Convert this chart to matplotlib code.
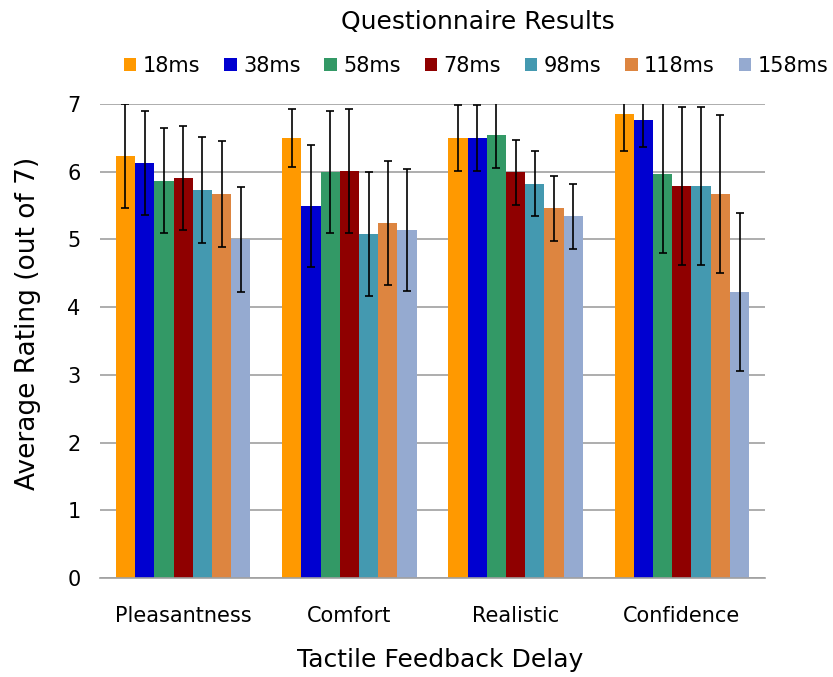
import matplotlib
matplotlib.use("Agg")
import matplotlib.pyplot as plt
import numpy as np

categories = ["Pleasantness", "Comfort", "Realistic", "Confidence"]
series = ["18ms", "38ms", "58ms", "78ms", "98ms", "118ms", "158ms"]
colors = ["#FF9900", "#0000D0", "#339966", "#8F0000", "#4499B0", "#DD8540", "#95AAD0"]

v18 = [6.23, 6.50, 6.50, 6.85]
v38 = [6.13, 5.50, 6.50, 6.77]
v58 = [5.87, 5.99, 6.54, 5.97]
v78 = [5.91, 6.01, 5.99, 5.79]
v98 = [5.73, 5.08, 5.82, 5.79]
v118 = [5.67, 5.24, 5.46, 5.67]
v158 = [5.00, 5.14, 5.34, 4.22]

e18 = [0.77, 0.43, 0.49, 0.54]
e38 = [0.77, 0.90, 0.49, 0.40]
e58 = [0.77, 0.90, 0.48, 1.17]
e78 = [0.77, 0.91, 0.48, 1.17]
e98 = [0.78, 0.91, 0.48, 1.17]
e118 = [0.78, 0.92, 0.48, 1.17]
e158 = [0.78, 0.90, 0.48, 1.17]

values = [v18, v38, v58, v78, v98, v118, v158]
errors = [e18, e38, e58, e78, e98, e118, e158]

fig = plt.figure(figsize=(8.33, 6.77), dpi=100)
ax = fig.add_axes([100/833, 1-578/677, 665/833, 474/677])

x = np.arange(len(categories))
n = len(series)
bw = 0.81 / n
for i in range(n):
    pos = x - 0.405 + bw * (i + 0.5)
    ax.bar(pos, values[i], width=bw, color=colors[i], label=series[i], zorder=2)
    ax.errorbar(pos, values[i], yerr=errors[i], fmt="none", ecolor="black",
                elinewidth=1.2, capsize=3, capthick=1.2, zorder=3)

ax.set_xlim(-0.5, 3.5)
ax.set_ylim(0, 7)
ax.set_yticks(range(8))
ax.yaxis.grid(True, color="#A0A0A0", linewidth=1.2, zorder=0)
ax.set_axisbelow(True)
for s in ["top", "right", "left"]:
    ax.spines[s].set_visible(False)
ax.spines["bottom"].set_color("#A0A0A0")
ax.spines["bottom"].set_linewidth(1.2)
ax.tick_params(axis="both", length=0, labelsize=15)
ax.tick_params(axis="x", pad=20)
ax.tick_params(axis="y", pad=14)
ax.set_xticks(x)
ax.set_xticklabels(categories)

fig.text(28/833, 1 - 323/677, "Average Rating (out of 7)", rotation=90,
         ha="center", va="center", fontsize=19)
fig.text(440/833, 1 - 660/677, "Tactile Feedback Delay", ha="center", va="center", fontsize=18)
fig.text(478/833, 1 - 22/677, "Questionnaire Results", ha="center", va="center", fontsize=18)
fig.legend(loc="center", bbox_to_anchor=(476/833, 1 - 66/677), ncol=7, frameon=False,
           fontsize=15, handlelength=0.6, handleheight=0.6, handletextpad=0.3,
           columnspacing=1.15)

fig.savefig("out.png", dpi=100)
